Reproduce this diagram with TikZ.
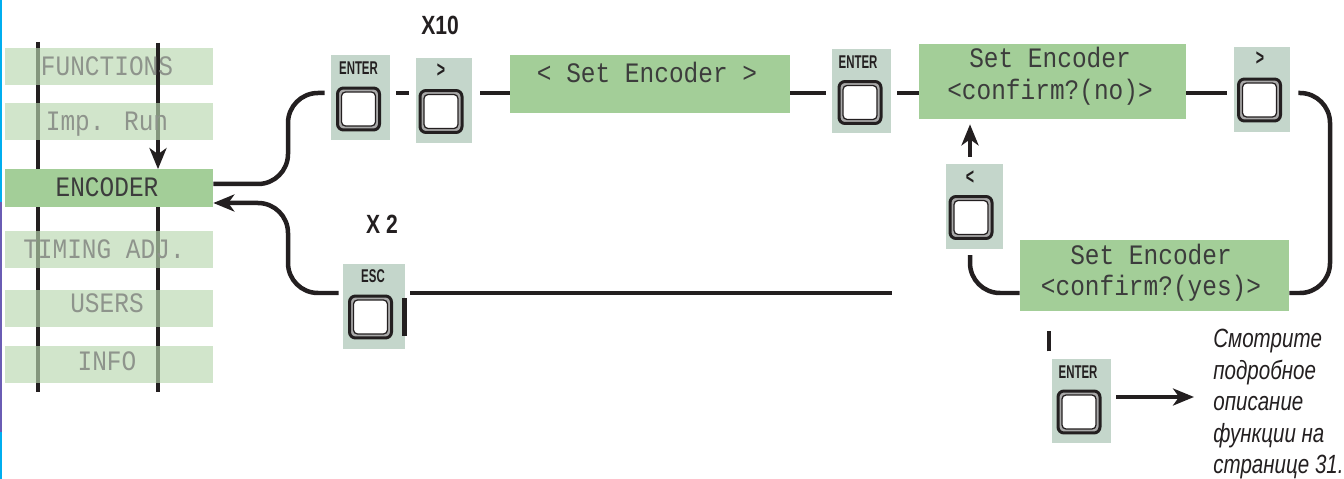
\documentclass[tikz,border=0pt]{standalone}
\usepackage{fontspec}
\usepackage{xcolor}
\usepackage{tikz}
\usetikzlibrary{arrows.meta}
\setmainfont{Liberation Sans}
\newfontfamily\lcdfont[FakeStretch=0.87]{Liberation Mono}
\newfontfamily\keyfont[FakeStretch=0.62]{Liberation Sans Bold}
\newfontfamily\countfont[FakeStretch=0.8]{Liberation Sans Bold}
\newfontfamily\notefont[FakeStretch=0.78]{Liberation Sans Italic}
\definecolor{inkc}{HTML}{231F20}
\definecolor{lcdink}{HTML}{3C3C3C}
\definecolor{lcdgreen}{HTML}{A3CE98}
\definecolor{menugreen}{HTML}{B9D7AF}
\definecolor{keyboxc}{HTML}{C4D6CB}
\definecolor{keyring}{HTML}{A9A9A9}
\definecolor{dimtext}{HTML}{8E948C}
\definecolor{edgecyan}{HTML}{00AEEF}
\definecolor{edgeviolet}{HTML}{6A5CB4}

\begin{document}
\begin{tikzpicture}[x=0.02cm, y=-0.02cm,
  wire/.style={draw=inkc, line width=0.09cm},
  arr/.style={-{Stealth[length=0.42cm, width=0.34cm, inset=0.12cm]}},
  menubox/.style={fill=menugreen, fill opacity=0.65, minimum width=4.16cm, minimum height=0.74cm, inner sep=0pt},
  menutext/.style={font=\lcdfont\fontsize{16}{18}\selectfont, text=dimtext, anchor=base, inner sep=0pt},
  lcd/.style={fill=lcdgreen, inner sep=0pt},
  lcdtext/.style={font=\lcdfont\fontsize{16}{18}\selectfont, text=lcdink, anchor=base, inner sep=0pt},
  btnbox/.style={fill=keyboxc, minimum height=1.69cm, inner sep=0pt},
  btnlbl/.style={font=\keyfont\fontsize{10.5}{12}\selectfont, text=inkc, inner sep=0pt},
  arrowlbl/.style={font=\keyfont\fontsize{13}{14}\selectfont, text=inkc, inner sep=0pt},
  countlbl/.style={font=\countfont\fontsize{15}{17}\selectfont, text=inkc, inner sep=0pt},
  keyout/.style={draw=inkc, fill=keyring, line width=0.06cm, rounded corners=0.12cm, minimum size=0.84cm, inner sep=0pt},
  keyin/.style={draw=inkc, fill=white, line width=0.025cm, rounded corners=0.08cm, minimum size=0.68cm, inner sep=0pt},
  keycap/.pic={\node[keyout] (-out) {}; \node[keyin] (-in) {};},
  curvewire/.style={rounded corners=0.6cm}]
  \useasboundingbox (0,0) rectangle (1344,479);
  \draw[edgecyan, line width=0.04cm] (1,0) -- (1,479);
  \draw[edgeviolet, line width=0.04cm] (1,202) -- (1,432);

  \coordinate (toprow) at (0,93);
  \coordinate (lowrow) at (0,293);
  \coordinate (outrow) at (0,184);
  \coordinate (backrow) at (0,203);

  \node[menubox] (encbox) at (109,188) {};
  \draw[wire] (38,42) -- (38,392);
  \draw[wire, arr] (158,43) -- (encbox.north -| 158,0);
  \draw[wire] (encbox.south -| 158,0) -- (158,392);
  \node[menubox] (funbox) at (109,66.5) {};
  \node[menubox] (impbox) at (109,121.5) {};
  \node[menubox] (timbox) at (109,249.5) {};
  \node[menubox] (usrbox) at (109,308.5) {};
  \node[menubox] (infbox) at (109,364.5) {};
  \node[lcd, minimum width=4.16cm, minimum height=0.76cm] (enc) at (109,188) {};
  \draw[wire] (158,43) -- (funbox.south -| 158,0);
  \node[menutext] (funtxt) at (107,76) {FUNCTIONS};
  \node[menutext] (imptxt) at (107,131) {Imp. Run};
  \node[lcdtext] (enctxt) at (107,197) {ENCODER};
  \node[menutext] (timtxt) at (104,258) {TIMING ADJ.};
  \node[menutext] (usrtxt) at (107,313) {USERS};
  \node[menutext] (inftxt) at (107,370) {INFO};

  \node[btnbox, minimum width=1.18cm] (ent1) at (360.5,97.5) {};
  \node[btnlbl] (ent1lbl) at (358.5,68) {ENTER};
  \pic (ent1key) at (358.5,109) {keycap};
  \node[btnbox, minimum width=1.12cm] (rgt1) at (444,100.5) {};
  \node[arrowlbl] (rgt1lbl) at (441,70.5) {>};
  \pic (rgt1key) at (441,111.5) {keycap};
  \node[countlbl] (x10) at (440,25) {X10};

  \node[lcd, minimum width=5.6cm, minimum height=1.16cm] (disp1) at (650,84) {};
  \node[lcdtext] (disp1txt) at (647,83) {< Set Encoder >};

  \node[btnbox, minimum width=1.18cm] (ent2) at (861.5,91) {};
  \node[btnlbl] (ent2lbl) at (858,62.5) {ENTER};
  \pic (ent2key) at (860,102.5) {keycap};

  \node[lcd, minimum width=5.34cm, minimum height=1.50cm] (disp2) at (1052.5,81.5) {};
  \node[lcdtext] (disp2top) at (1050,68) {Set Encoder};
  \node[lcdtext] (disp2bot) at (1050,100) {<confirm?(no)>};

  \node[btnbox, minimum width=1.12cm] (rgt2) at (1262,89.5) {};
  \node[arrowlbl] (rgt2lbl) at (1260,59) {>};
  \pic (rgt2key) at (1259.5,100) {keycap};

  \node[btnbox, minimum width=1.14cm] (lft) at (974.5,206.5) {};
  \node[arrowlbl] (lftlbl) at (970,178) {<};
  \pic (lftkey) at (971,217.5) {keycap};

  \node[lcd, minimum width=5.38cm, minimum height=1.42cm] (disp3) at (1154.5,275.5) {};
  \node[lcdtext] (disp3top) at (1151,265) {Set Encoder};
  \node[lcdtext] (disp3bot) at (1151,296) {<confirm?(yes)>};

  \node[btnbox, minimum width=1.24cm] (esc) at (374,306.5) {};
  \node[btnlbl] (esclbl) at (373,276.5) {ESC};
  \pic (esckey) at (370.5,317) {keycap};
  \node[countlbl] (x2) at (382,224) {X 2};
  \coordinate (escend) at (892,293);

  \node[btnbox, minimum width=1.18cm] (ent3) at (1081.5,401) {};
  \node[btnlbl] (ent3lbl) at (1078,372) {ENTER};
  \pic (ent3key) at (1079,412) {keycap};

  \node[font=\notefont\fontsize{15}{17.9}\selectfont, text=inkc, align=left, anchor=north west, inner sep=0pt] (note) at (1213,329) {Смотрите\\подробное\\описание\\функции на\\странице 31.};

  \draw[wire, curvewire] (enc.east |- outrow) -- (288,184) -- (288,93) -- ([xshift=-0.12cm]ent1.west |- toprow);
  \draw[wire, shorten <=0.12cm, shorten >=0.14cm] (ent1.east |- toprow) -- (rgt1.west |- toprow);
  \draw[wire, shorten <=0.16cm] (rgt1.east |- toprow) -- (disp1.west |- toprow);
  \draw[wire, shorten >=0.12cm] (disp1.east |- toprow) -- (ent2.west |- toprow);
  \draw[wire, shorten <=0.12cm] (ent2.east |- toprow) -- (disp2.west |- toprow);
  \draw[wire, shorten >=0.14cm] (disp2.east |- toprow) -- (rgt2.west |- toprow);
  \draw[wire, curvewire] ([xshift=0.16cm]rgt2.east |- toprow) -- (1330,93) -- (1330,293) -- (disp3.east |- lowrow);
  \draw[wire, curvewire] (disp3.west |- lowrow) -- (970,293) -- ([yshift=-0.12cm]lft.south -| 970,0);
  \draw[wire, arr, shorten <=0.14cm, shorten >=0.1cm] (lft.north -| 970,0) -- (disp2.south -| 970,0);
  \draw[wire, arr, curvewire] ([xshift=-0.08cm]esc.west |- lowrow) -- (288,293) -- (288,203) -- (enc.east |- backrow);
  \draw[wire, shorten <=0.1cm] (esc.east |- lowrow) -- (escend);
  \draw[wire] ([xshift=-0.02cm]esc.east |- 0,298) -- ([xshift=-0.02cm]esc.east |- 0,336);
  \draw[wire] ([xshift=-0.05cm, yshift=0.14cm]ent3.north west) -- ++(0,-20);
  \draw[wire, arr, shorten <=0.1cm, shorten >=0.38cm] (ent3.east |- 0,397) -- (note.west |- 0,397);
\end{tikzpicture}
\end{document}
